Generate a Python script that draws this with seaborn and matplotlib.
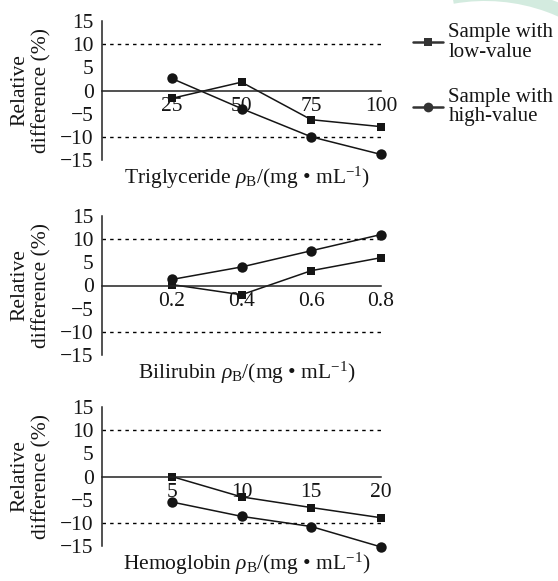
import pandas as pd
import matplotlib.pyplot as plt
import seaborn as sns
from matplotlib.lines import Line2D
from matplotlib.patches import Wedge

# values
tg_conc = [25, 50, 75, 100]
tg_low = [-1.7, 1.8, -6.3, -7.8]
tg_high = [2.6, -3.9, -10.0, -13.8]

bil_conc = [0.2, 0.4, 0.6, 0.8]
bil_low = [0.2, -2.0, 3.2, 6.0]
bil_high = [1.3, 4.0, 7.5, 11.0]

hb_conc = [5, 10, 15, 20]
hb_low = [0.0, -4.4, -6.7, -8.9]
hb_high = [-5.5, -8.6, -10.8, -15.2]

y_ticks = [-15, -10, -5, 0, 5, 10, 15]
legend_labels = ["Sample with\nlow-value", "Sample with\nhigh-value"]

panels = [
    ("Triglyceride", tg_conc, tg_low, tg_high),
    ("Bilirubin", bil_conc, bil_low, bil_high),
    ("Hemoglobin", hb_conc, hb_low, hb_high),
]

sns.set_theme(style="white")
plt.rcParams["font.family"] = ["Liberation Serif", "DejaVu Serif"]
plt.rcParams["mathtext.fontset"] = "custom"
plt.rcParams["mathtext.rm"] = "Liberation Serif"
plt.rcParams["mathtext.it"] = "Liberation Serif:italic"

fs = 15.5
ink = "#151515"

fig = plt.figure(figsize=(5.58, 5.81), dpi=100)

# faint watermark arc in the top-right corner
bg = fig.add_axes([0, 0, 1, 1], zorder=-1)
bg.set_xlim(0, 558)
bg.set_ylim(0, 581)
bg.axis("off")
bg.add_patch(Wedge((485, 400), 193, 40, 100, width=13, color="#d3ebdf", lw=0))

left, width = 102 / 558, 279 / 558
bottoms = [1 - 160 / 581, 1 - 355 / 581, 1 - 546 / 581]
height = 139 / 581

for (name, conc, low, high), bottom in zip(panels, bottoms):
    ax = fig.add_axes([left, bottom, width, height])
    ax.patch.set_alpha(0)
    df = pd.DataFrame({"conc": conc, "low": low, "high": high})

    ax.axhline(10, color="black", lw=1, ls=(0, (2.5, 3)))
    ax.axhline(-10, color="black", lw=1, ls=(0, (2.5, 3)))

    sns.lineplot(data=df, x="conc", y="low", ax=ax, color=ink, lw=1.1,
                 marker="s", markersize=6.2, markeredgewidth=0, clip_on=False)
    sns.lineplot(data=df, x="conc", y="high", ax=ax, color=ink, lw=1.1,
                 marker="o", markersize=7.5, markeredgewidth=0, clip_on=False)

    ax.set_xlim(0, conc[-1])
    ax.set_ylim(-15, 15)
    ax.set_xticks(conc)
    ax.set_xticklabels([f"{c:g}" for c in conc])
    ax.set_yticks(y_ticks)

    for s in ["top", "right"]:
        ax.spines[s].set_visible(False)
    ax.spines["bottom"].set_position(("data", 0))
    for s in ["bottom", "left"]:
        ax.spines[s].set_color("#222222")
        ax.spines[s].set_linewidth(1.1)
    ax.tick_params(axis="both", direction="in", length=5, width=1,
                   color="#222222", labelsize=fs, labelcolor=ink)
    ax.tick_params(axis="x", pad=5)
    ax.tick_params(axis="y", pad=6)

    ax.set_ylabel("Relative\ndifference (%)", fontsize=fs, linespacing=1.2,
                  color=ink)
    ax.yaxis.set_label_coords(-0.18, 0.5)
    ax.set_xlabel(name + r" $\rho_{\mathrm{B}}$/(mg • mL$^{-1}$)",
                  fontsize=fs, color=ink)
    ax.xaxis.set_label_coords(0.52, -0.035)
    ax.xaxis.label.set_va("top")

handles = [
    Line2D([], [], color="#333333", lw=1.8, marker="s", markersize=6.2, markeredgewidth=0),
    Line2D([], [], color="#333333", lw=1.8, marker="o", markersize=7, markeredgewidth=0),
]
leg = fig.legend(handles, legend_labels, loc="upper left",
                 bbox_to_anchor=(413 / 558, 1 - 23 / 581), frameon=False,
                 borderpad=0, borderaxespad=0,
                 handlelength=1.45, handletextpad=0.25, labelspacing=1.25,
                 fontsize=15)
for t in leg.get_texts():
    t.set_linespacing(1.05)
    t.set_color(ink)

fig.savefig("out.png", dpi=100)
